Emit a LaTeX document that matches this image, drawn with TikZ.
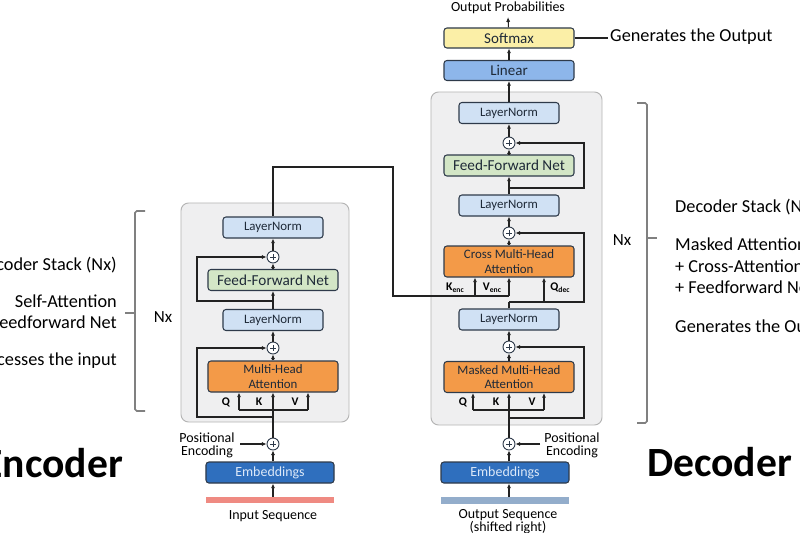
\documentclass[tikz,border=0pt]{standalone}
\usepackage{fontspec}
\setmainfont{Carlito}
\usetikzlibrary{arrows.meta,positioning}

\definecolor{stackgray}{HTML}{EFEFF0}
\definecolor{stackline}{HTML}{B4B4B4}
\definecolor{boxline}{HTML}{2E3A4A}
\definecolor{boxtext}{HTML}{1F2A38}
\definecolor{normblue}{HTML}{D0E1F4}
\definecolor{ffngreen}{HTML}{D3E6C6}
\definecolor{attnorange}{HTML}{F39A48}
\definecolor{softyellow}{HTML}{FBEFA7}
\definecolor{linblue}{HTML}{8DB6EA}
\definecolor{embblue}{HTML}{2F6FBE}
\definecolor{embtext}{HTML}{DCE8F8}
\definecolor{inbar}{HTML}{EF8A82}
\definecolor{outbar}{HTML}{93ADCB}
\definecolor{linkcol}{HTML}{222222}
\definecolor{bracegray}{HTML}{808080}

\begin{document}
\begin{tikzpicture}[x=0.03cm,y=-0.03cm,
  every node/.style={font=\fontsize{11}{12.2}\selectfont, text=boxtext},
  blk/.style={draw=boxline, line width=0.9pt, rounded corners=2.5pt, inner sep=1pt, align=center, minimum height=0.63cm},
  norm/.style={blk, fill=normblue, minimum width=3cm},
  ffn/.style={blk, fill=ffngreen, minimum width=3.9cm, font=\fontsize{13}{14}\selectfont},
  attn/.style={blk, fill=attnorange, minimum width=3.9cm, minimum height=0.93cm},
  head/.style={blk, minimum width=3.9cm, minimum height=0.6cm, font=\fontsize{12.8}{14}\selectfont},
  embed/.style={blk, fill=embblue, text=embtext, minimum width=3.84cm, font=\fontsize{11.9}{13}\selectfont},
  seqbar/.style={minimum width=3.84cm, minimum height=0.19cm, inner sep=0},
  addop/.style={circle, draw=boxline, fill=white, line width=0.8pt, minimum size=0.36cm, inner sep=0,
    path picture={\draw[line width=0.6pt]
      ([xshift=-2.3pt]path picture bounding box.center) -- ([xshift=2.3pt]path picture bounding box.center)
      ([yshift=-2.3pt]path picture bounding box.center) -- ([yshift=2.3pt]path picture bounding box.center);}},
  stack/.style={draw=stackline, fill=stackgray, line width=0.8pt, rounded corners=6.5pt, inner sep=0},
  link/.style={draw=linkcol, line width=0.9pt},
  arr/.style={link, -{Latex[length=4pt,width=3.6pt]}},
  brace/.style={draw=bracegray, line width=1.3pt, rounded corners=1.5pt},
  lbl/.style={font=\fontsize{11.9}{11}\selectfont, align=center, inner sep=0, text=black},
  side/.style={font=\fontsize{15.6}{17}\selectfont, inner sep=0, text=black},
  big/.style={font=\fontsize{35.5}{40}\selectfont\bfseries, inner sep=0, text=black},
  qkv/.style={font=\fontsize{10}{11}\selectfont\bfseries, inner sep=0, text=black},
  nx/.style={font=\fontsize{14.5}{16}\selectfont, text=black}
]
\useasboundingbox (0,0) rectangle (800,533);
\clip (0,0) rectangle (800,533);

% stacks
\node[stack, minimum width=5.04cm, minimum height=6.57cm] (encStack) at (265,312.5) {};
\node[stack, minimum width=5.13cm, minimum height=9.99cm] (decStack) at (516.5,258.5) {};

% encoder
\node[norm] (eNormB) at (273,227.5) {LayerNorm};
\node[addop] (eAddB) at (273,257) {};
\node[ffn] (eFFN) at (273,280) {Feed-Forward Net};
\node[norm] (eNormA) at (273,320) {LayerNorm};
\node[addop] (eAddA) at (273,348) {};
\node[attn] (eMHA) at (273,376.5) {Multi-Head\\Attention};
\node[qkv] (eQ) at (226,402) {Q};
\node[qkv] (eK) at (259,402) {K};
\node[qkv] (eV) at (295,402) {V};
\node[addop] (eAddPos) at (273,444) {};
\node[lbl] (ePos) at (207,445.5) {Positional\\Encoding};
\node[embed] (eEmb) at (270,472.5) {Embeddings};
\node[seqbar, fill=inbar] (eSeq) at (270,500) {};
\node[lbl, anchor=base] (eSeqTxt) at (273,519) {Input Sequence};

% decoder
\node[lbl] (dProb) at (508,8) {Output Probabilities};
\node[head, fill=softyellow] (dSoftmax) at (509,38) {Softmax};
\node[head, fill=linblue] (dLinear) at (509,70.5) {Linear};
\node[norm] (dNormC) at (509,113) {LayerNorm};
\node[addop] (dAddC) at (509,143) {};
\node[ffn] (dFFN) at (509,165.5) {Feed-Forward Net};
\node[norm] (dNormB) at (509,205.5) {LayerNorm};
\node[addop] (dAddB) at (509,233) {};
\node[attn] (dCross) at (509,261.5) {Cross Multi-Head\\Attention};
\node[qkv] (dKencTxt) at (455,288) {K\raisebox{-1.5pt}{\fontsize{6.5}{7}\selectfont enc}};
\node[qkv] (dVencTxt) at (492,288) {V\raisebox{-1.5pt}{\fontsize{6.5}{7}\selectfont enc}};
\node[qkv] (dQdecTxt) at (560,288) {Q\raisebox{-1.5pt}{\fontsize{6.5}{7}\selectfont dec}};
\node[norm] (dNormA) at (509,319.5) {LayerNorm};
\node[addop] (dAddA) at (509,347) {};
\node[attn] (dMasked) at (509,377) {Masked Multi-Head\\Attention};
\node[qkv] (dQ) at (463,402) {Q};
\node[qkv] (dK) at (496,402) {K};
\node[qkv] (dV) at (532,402) {V};
\node[addop] (dAddPos) at (509,444) {};
\node[lbl] (dPos) at (572,445.5) {Positional\\Encoding};
\node[embed] (dEmb) at (505,472.5) {Embeddings};
\node[seqbar, fill=outbar] (dSeq) at (505,500.5) {};
\node[lbl, anchor=north] (dSeqTxt) at (508,509) {Output Sequence\\(shifted right)};

% encoder links
\coordinate (ePosTail) at (240,444);
\coordinate (eQin) at (239,410);
\coordinate (eVin) at (308,410);
\coordinate (eSkipA) at (273,417);
\coordinate (eSkipB) at (273,301);
\draw[arr] (eSeq.north -| eAddPos) -- (eEmb.south -| eAddPos);
\draw[arr] (eEmb.north -| eAddPos) -- (eAddPos);
\draw[arr] (ePosTail) -- (eAddPos);
\draw[arr] (eAddPos) -- (eMHA);
\draw[link] (eQin) -- (eVin);
\draw[arr] (eQin) -- (eQin |- eMHA.south);
\draw[arr] (eVin) -- (eVin |- eMHA.south);
\draw[arr] (eSkipA) -- ++(-76,0) |- (eAddA);
\draw[arr] (eMHA) -- (eAddA);
\draw[arr] (eAddA) -- (eNormA);
\draw[arr] (eNormA) -- (eFFN);
\draw[arr] (eSkipB) -- ++(-76,0) |- (eAddB);
\draw[arr] (eFFN) -- (eAddB);
\draw[arr] (eAddB) -- (eNormB);

% encoder to decoder
\coordinate (encOut) at (393,296);
\coordinate (dKenc) at (475,296);
\coordinate (dVenc) at (509,296);
\draw[link] (eNormB.north) -- ++(0,-49.5) -| (encOut) -- (dVenc);
\draw[arr] (dKenc) -- (dKenc |- dCross.south);
\draw[arr] (dVenc) -- (dCross.south);

% decoder links
\coordinate (dPosTail) at (540,444);
\coordinate (dQin) at (473,410);
\coordinate (dVin) at (544,410);
\coordinate (dSkipA) at (509,418);
\coordinate (dSkipB) at (509,302);
\coordinate (dQdec) at (544,302);
\coordinate (dSkipC) at (509,188);
\draw[arr] (dSeq.north -| dAddPos) -- (dEmb.south -| dAddPos);
\draw[arr] (dEmb.north -| dAddPos) -- (dAddPos);
\draw[arr] (dPosTail) -- (dAddPos);
\draw[arr] (dAddPos) -- (dMasked);
\draw[link] (dQin) -- (dVin);
\draw[arr] (dQin) -- (dQin |- dMasked.south);
\draw[arr] (dVin) -- (dVin |- dMasked.south);
\draw[arr] (dSkipA) -- ++(75,0) |- (dAddA);
\draw[arr] (dMasked) -- (dAddA);
\draw[arr] (dAddA) -- (dNormA);
\draw[link] (dNormA) -- (dSkipB);
\draw[arr] (dSkipB) -- ++(75,0) |- (dAddB);
\draw[arr] (dQdec) -- (dQdec |- dCross.south);
\draw[arr] (dCross) -- (dAddB);
\draw[arr] (dAddB) -- (dNormB);
\draw[arr] (dNormB) -- (dFFN);
\draw[arr] (dSkipC) -- ++(75,0) |- (dAddC);
\draw[arr] (dFFN) -- (dAddC);
\draw[arr] (dAddC) -- (dNormC);
\draw[arr] (dNormC) -- (dLinear);
\draw[arr] (dLinear) -- (dSoftmax);
\draw[arr] (dSoftmax) -- ([yshift=-2.5pt]dProb.south);

% side notes
\node[side, anchor=base west] (dGen) at (610,42) {Generates the Output};
\draw[link] (dSoftmax) -- ([xshift=-2pt]dGen.west |- dSoftmax);

\draw[brace] (145,211) -- (135,211) -- (135,411) -- (145,411);
\draw[brace] (135,313) -- (125,313);
\node[nx] (eNx) at (163,317) {Nx};
\draw[brace] (637,103) -- (647,103) -- (647,423) -- (637,423);
\draw[brace] (647,238) -- (657,238);
\node[nx] (dNx) at (622,240) {Nx};

\node[side, anchor=base east] (eStackTxt) at (117,270) {Encoder Stack (Nx)};
\node[side, anchor=base east] (eSelfTxt) at (117,307) {Self-Attention};
\node[side, anchor=base east] (eFfTxt) at (117,328) {+ Feedforward Net};
\node[side, anchor=base east] (eProcTxt) at (117,365) {Processes the input};

\node[side, anchor=base west] (dStackTxt) at (675,212) {Decoder Stack (Nx)};
\node[side, anchor=base west] (dMaskTxt) at (675,250) {Masked Attention};
\node[side, anchor=base west] (dCrossTxt) at (675,272) {+ Cross-Attention};
\node[side, anchor=base west] (dFfTxt) at (675,293) {+ Feedforward Net};
\node[side, anchor=base west] (dOutTxt) at (675,332) {Generates the Output};

\node[big, anchor=base east] (encTitle) at (123,477) {Encoder};
\node[big, anchor=base west] (decTitle) at (647,476) {Decoder};
\end{tikzpicture}
\end{document}
